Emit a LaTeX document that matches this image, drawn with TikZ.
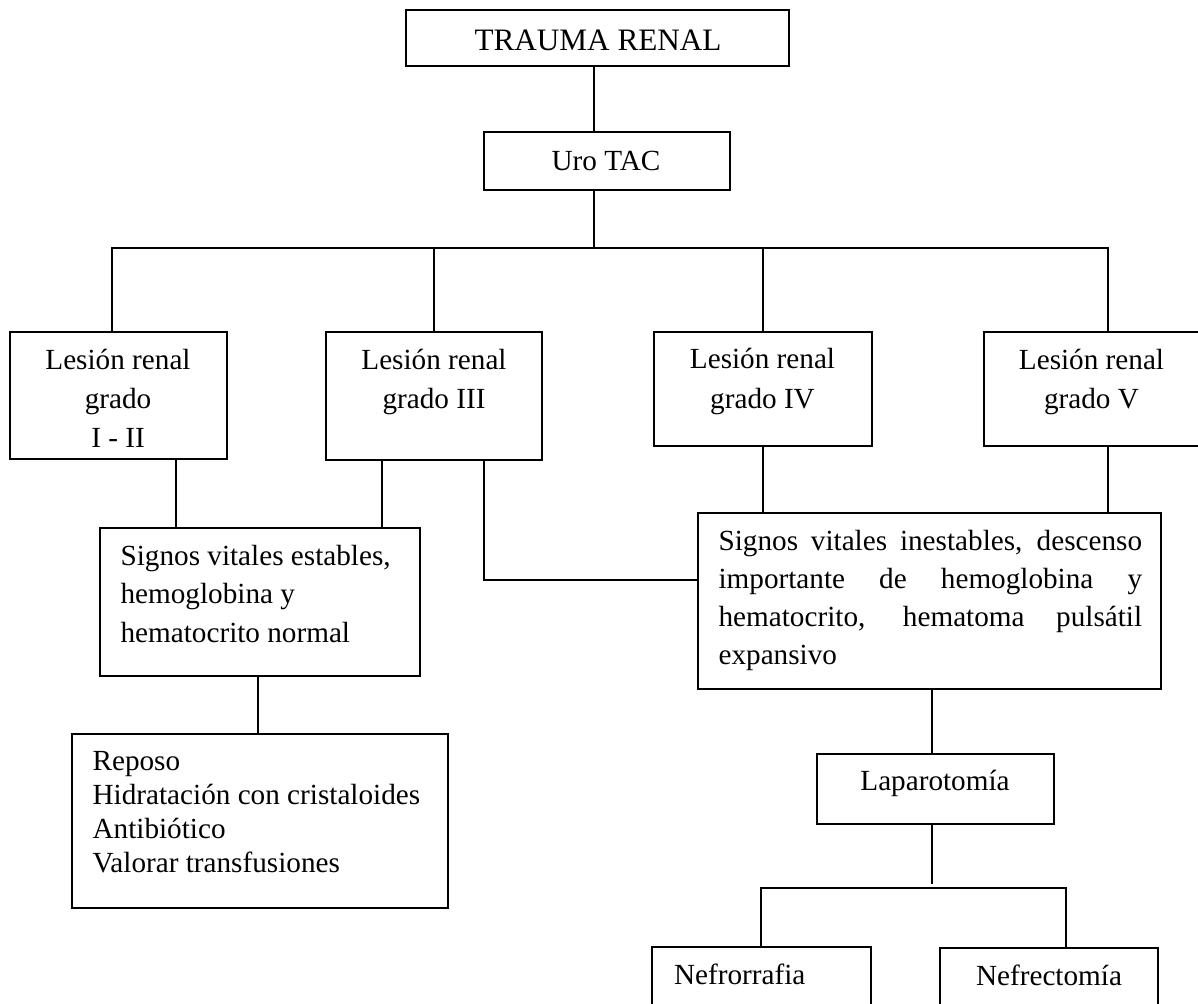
\documentclass[tikz,border=0pt]{standalone}
\usepackage{fontspec}
\setmainfont{Liberation Serif}
\newcommand\bodyfont{\fontsize{14.6pt}{19.25pt}\selectfont}
\newcommand\titlefont{\fontsize{15.6pt}{19pt}\selectfont}
\begin{document}
\begin{tikzpicture}[x=0.5pt,y=-0.5pt,line width=0.6pt,
  box/.style={draw,rectangle,inner sep=0pt},
  txt/.style={inner sep=0pt,font=\bodyfont}]
\useasboundingbox (0,0) rectangle (1198,1003);
% boxes
\node[box,minimum width=191.5pt,minimum height=28pt] (trauma) at (597.5,38) {};
\node[box,minimum width=123pt,minimum height=29pt] (uro) at (607,161) {};
\node[box,minimum width=108.5pt,minimum height=63.5pt] (g12) at (118.5,395.5) {};
\node[box,minimum width=108pt,minimum height=64pt] (g3) at (434,396) {};
\node[box,minimum width=109pt,minimum height=57pt] (g4) at (763,389) {};
\node[box,minimum width=107.5pt,minimum height=57pt] (g5) at (1091.5,389) {};
\node[box,minimum width=160pt,minimum height=74pt] (est) at (260,602) {};
\node[box,minimum width=188pt,minimum height=87pt] (rep) at (260,821) {};
\node[box,minimum width=231.5pt,minimum height=88pt] (ines) at (929.5,601) {};
\node[box,minimum width=118.5pt,minimum height=35pt] (lap) at (935.5,789) {};
\node[box,minimum width=109.5pt,minimum height=34pt] (nrr) at (761.5,981) {};
\node[box,minimum width=109pt,minimum height=34pt] (nct) at (1049,982) {};
% texts
\node[txt,anchor=base,font=\titlefont] (ttrauma) at (598,50) {TRAUMA RENAL};
\node[txt,anchor=base] (turo) at (606,170) {Uro TAC};
\node[txt,anchor=base] (tg12) at (118,369) {\parbox[t]{100pt}{\centering\bodyfont\baselineskip=19.5pt Lesión renal\\grado\\I - II}};
\node[txt,anchor=base] (tg3) at (434,369) {\parbox[t]{100pt}{\centering\bodyfont\baselineskip=19.75pt Lesión renal\\grado III}};
\node[txt,anchor=base] (tg4) at (762.5,368) {\parbox[t]{100pt}{\centering\bodyfont\baselineskip=20pt Lesión renal\\grado IV}};
\node[txt,anchor=base] (tg5) at (1091.5,369) {\parbox[t]{100pt}{\centering\bodyfont\baselineskip=19.75pt Lesión renal\\grado V}};
\node[txt,anchor=base west] (test) at (120,565) {\parbox[t]{150pt}{\raggedright\bodyfont\baselineskip=19.25pt Signos vitales estables,\\hemoglobina y\\hematocrito normal}};
\node[txt,anchor=base west] (trep) at (92,770) {\parbox[t]{180pt}{\raggedright\bodyfont\baselineskip=17pt Reposo\\Hidratación con cristaloides\\Antibiótico\\Valorar transfusiones}};
\node[txt,anchor=base west] (tines) at (718,550) {\parbox[t]{211.75pt}{\bodyfont\baselineskip=19.15pt
  \makebox[\linewidth][s]{Signos vitales inestables, descenso}\\
  \makebox[\linewidth][s]{importante de hemoglobina y}\\
  \makebox[\linewidth][s]{hematocrito, hematoma pulsátil}\\
  expansivo}};
\node[txt,anchor=base] (tlap) at (935,790) {Laparotomía};
\node[txt,anchor=base west] (tnrr) at (673.5,984) {Nefrorrafia};
\node[txt,anchor=base] (tnct) at (1049,985) {Nefrectomía};
% reference coordinates for connector columns
\coordinate (c594) at (594,0);
\coordinate (c112) at (112,0);
\coordinate (c1108) at (1108,0);
\coordinate (c176) at (176,0);
\coordinate (c382) at (382,0);
\coordinate (c484) at (484,0);
\coordinate (c258) at (258,0);
\coordinate (c932) at (932,0);
\coordinate (c761) at (761,0);
\coordinate (c1066) at (1066,0);
\coordinate (bus) at (594,248);
\coordinate (y580) at (0,580);
\coordinate (lapend) at (932,884);
\coordinate (bus2) at (932,888);
% connectors
\draw (trauma.south -| c594) -- (uro.north -| c594);
\draw (uro.south -| c594) -- (bus);
\draw (g12.north -| c112) |- (bus) -| (g5.north -| c1108);
\draw (g3.north) -- (g3.north |- bus);
\draw (g4.north) -- (g4.north |- bus);
\draw (g12.south -| c176) -- (est.north -| c176);
\draw (g3.south -| c382) -- (est.north -| c382);
\draw (g3.south -| c484) |- (ines.west |- y580);
\draw (g4.south) -- (ines.north -| g4.south);
\draw (g5.south -| c1108) -- (ines.north -| c1108);
\draw (est.south -| c258) -- (rep.north -| c258);
\draw (ines.south -| c932) -- (lap.north -| c932);
\draw (lap.south -| c932) -- (lapend);
\draw (nrr.north -| c761) |- (bus2) -| (nct.north -| c1066);
\end{tikzpicture}
\end{document}
